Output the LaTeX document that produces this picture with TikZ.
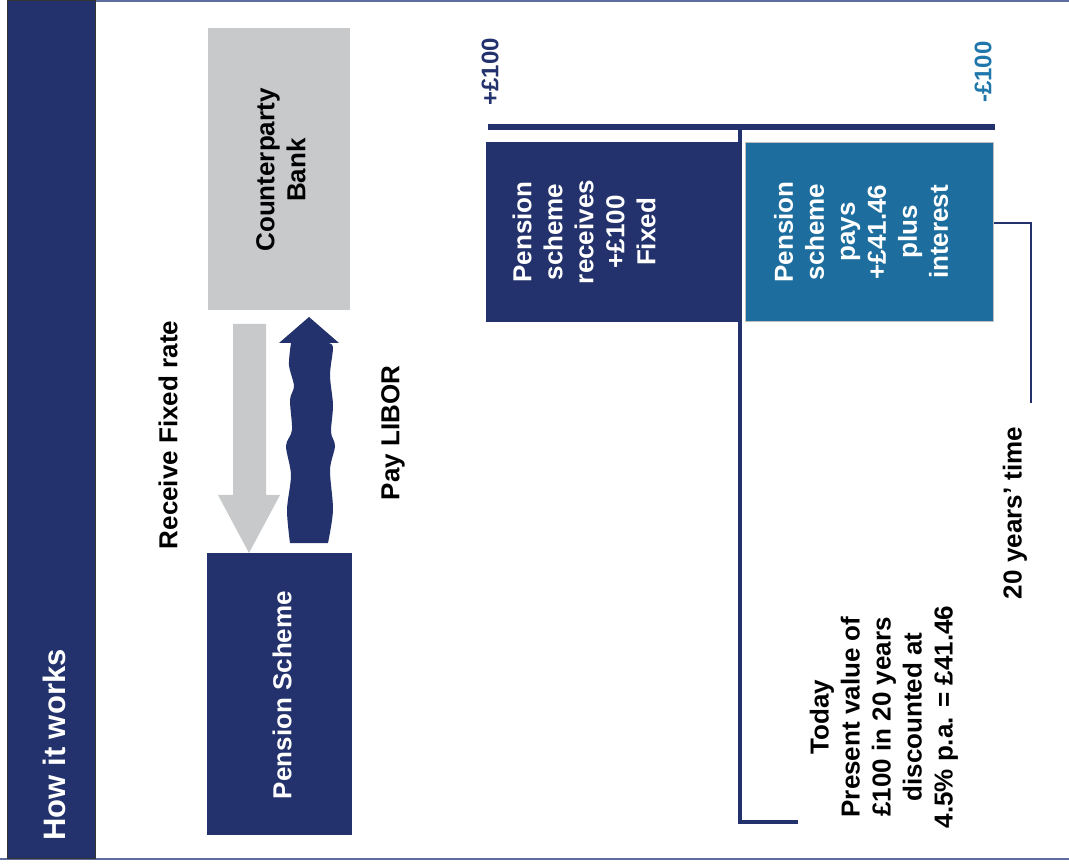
\documentclass[tikz,border=0pt]{standalone}
\usepackage{fontspec}
\setmainfont{Liberation Sans}
\definecolor{navy}{HTML}{23326C}
\definecolor{teal}{HTML}{1D6E9E}
\definecolor{tealtxt}{HTML}{1F76AB}
\definecolor{lgrey}{HTML}{C8C9CB}
\definecolor{rulec}{HTML}{5E6C9E}
\tikzset{
  txt/.style={rotate=90, font=\fontsize{26}{31}\selectfont\bfseries, align=center, inner sep=0pt},
  boxn/.style={fill=navy, draw=none, inner sep=0pt},
  link/.style={draw=navy, line width=2pt},
}
\begin{document}
\begin{tikzpicture}[x=1pt,y=-1pt]
\useasboundingbox (0,0) rectangle (1069,866);
% frame lines
\coordinate (tl0) at (95,1);
\coordinate (tr0) at (1069,1);
\draw[rulec, line width=1.5pt] (tl0) -- (tr0);
\coordinate (bl0) at (0,859);
\coordinate (br0) at (1069,859);
\draw[rulec, line width=2pt] (bl0) -- (br0);
% left bar
\node[boxn, draw=black!80, line width=0.8pt, minimum width=88pt, minimum height=858pt] (bar) at (51,429) {};
\node[txt, text=white, font=\fontsize{31}{36}\selectfont\bfseries] (how) at (54,745) {How it works};
% boxes
\node[fill=lgrey, inner sep=0pt, minimum width=142pt, minimum height=282pt] (bank) at (279,169) {};
\node[txt] (banktxt) at (281,170) {Counterparty\\Bank};
\node[boxn, minimum width=145pt, minimum height=282pt] (ps) at (279.5,694) {};
\node[txt, text=white] (pstxt) at (282,695) {Pension Scheme};
% grey arrow (receive fixed)
\fill[lgrey] (233,324) -- (266,324) -- (266,495) -- (280,495) -- (249,553) -- (218,495) -- (233,495) -- cycle;
% navy wavy arrow (pay libor)
\fill[navy] (291,343) -- plot[smooth] coordinates {(327,343)(333,347)(330,375)(333,405)(331,432)(335,446)(330,470)(333,510)(328,543)}
  -- plot[smooth] coordinates {(290,543)(287,510)(291,475)(286,446)(292,430)(290,400)(294,386)(289,365)(291,343)} -- cycle;
\fill[navy] (279,343) -- (309,317) -- (339,343) -- cycle;
\node[txt] (recv) at (168,435) {Receive Fixed rate};
\node[txt] (pay) at (393,433) {Pay LIBOR};
% right part
\node[txt, text=navy, font=\fontsize{24}{29}\selectfont\bfseries] (plus) at (490,72) {+£100};
\node[txt, text=tealtxt, font=\fontsize{24}{29}\selectfont\bfseries] (minus) at (983,72) {-£100};
\node[boxn, minimum width=256pt, minimum height=180pt] (recbox) at (614,232) {};
\node[fill=teal, draw=black!25, line width=1pt, inner sep=0pt, minimum width=248pt, minimum height=179pt] (paybox) at (869,232.5) {};
\node[txt, text=white] (rectxt) at (584,232) {Pension\\scheme\\receives\\+£100\\Fixed};
\node[txt, text=white] (paytxt) at (861,232) {Pension\\scheme\\pays\\+£41.46\\plus\\interest};
% timeline
\coordinate (tlA) at (488,127);
\coordinate (tlB) at (995,127);
\draw[navy, line width=6pt] (tlA) -- (tlB);
\coordinate (vTop) at (740,127);
\coordinate (vBot) at (740,822);
\coordinate (vEnd) at (798,822);
\draw[navy, line width=3.5pt] (vTop) -- (vBot) -- (vEnd);
\coordinate (cEnd) at (1031,403);
\draw[link] ([yshift=9.5pt]paybox.east) -| (cEnd);
\node[txt] (twenty) at (1015,513) {20 years’ time};
\node[txt] (today) at (884,717) {Today\\Present value of\\£100 in 20 years\\discounted at\\4.5\% p.a. = £41.46};
\end{tikzpicture}
\end{document}
